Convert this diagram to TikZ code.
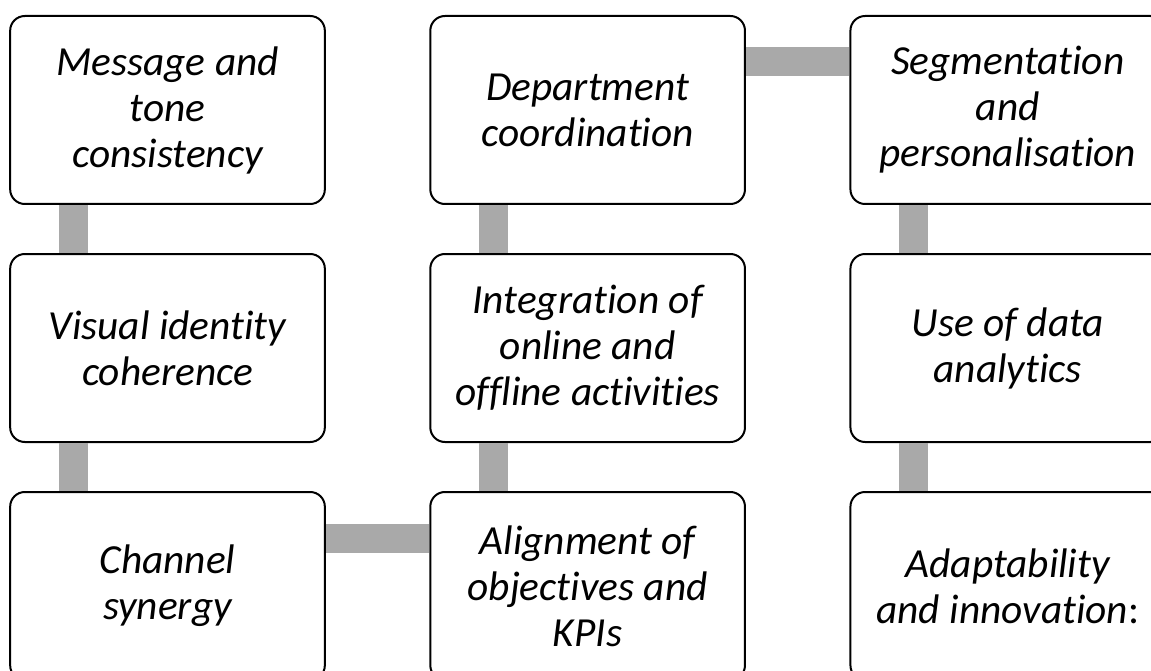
\documentclass[tikz,border=0pt]{standalone}
\usepackage{fontspec}
\setmainfont{Carlito}[Ligatures=NoCommon]
\usetikzlibrary{positioning}

\begin{document}
\begin{tikzpicture}[
        x=0.75pt,
        y=-0.75pt,
        stepbox/.style={
            draw,
            fill=white,
            rounded corners=11pt,
            line width=1.5pt,
            minimum width=236pt,
            minimum height=141pt,
            text width=225pt,
            align=center,
            inner sep=0pt,
            font=\fontsize{31}{34.5}\selectfont\itshape,
            execute at begin node={\spaceskip=0.23em\relax}
          },
        bar/.style={
            draw=barcolor,
            line width=21.75pt
          }]
        % Define colors
        \definecolor{barcolor}{HTML}{A9A9A9} % grey links

        % Frame of the picture
        \useasboundingbox (0,0) rectangle (1151,670);
        \clip (0,0) rectangle (1151,670);

        % Draw boxes
        \node[stepbox] (msg) at (167.5,110) {Message and\\ tone\\ consistency};
        \node[stepbox, below=36pt of msg] (vis) {Visual identity\\ coherence};
        \node[stepbox, below=36pt of vis] (chan) {Channel\\ synergy};
        \node[stepbox, right=77.6pt of chan] (align) {Alignment of\\ objectives and\\ KPIs};
        \node[stepbox, above=36pt of align] (integ) {Integration of\\ online and\\ offline activities};
        \node[stepbox, above=36pt of integ] (dept) {Department\\ coordination};
        \node[stepbox, right=77.6pt of dept] (seg) {Segmentation\\ and\\ personalisation};
        \node[stepbox, below=36pt of seg] (data) {Use of data\\ analytics};
        \node[stepbox, below=36pt of data] (adapt) {Adaptability\\ and innovation\textup{:}};

        % Draw links
        \draw[bar] ([xshift=48.4pt]msg.south west) -- ([xshift=48.4pt]vis.north west);
        \draw[bar] ([xshift=48.4pt]vis.south west) -- ([xshift=48.4pt]chan.north west);
        \draw[bar] ([yshift=-35.25pt]chan.north east) -- ([yshift=-35.25pt]align.north west);
        \draw[bar] ([xshift=48.4pt]align.north west) -- ([xshift=48.4pt]integ.south west);
        \draw[bar] ([xshift=48.4pt]integ.north west) -- ([xshift=48.4pt]dept.south west);
        \draw[bar] ([yshift=-35.25pt]dept.north east) -- ([yshift=-35.25pt]seg.north west);
        \draw[bar] ([xshift=48.4pt]seg.south west) -- ([xshift=48.4pt]data.north west);
        \draw[bar] ([xshift=48.4pt]data.south west) -- ([xshift=48.4pt]adapt.north west);
    \end{tikzpicture}
\end{document}
